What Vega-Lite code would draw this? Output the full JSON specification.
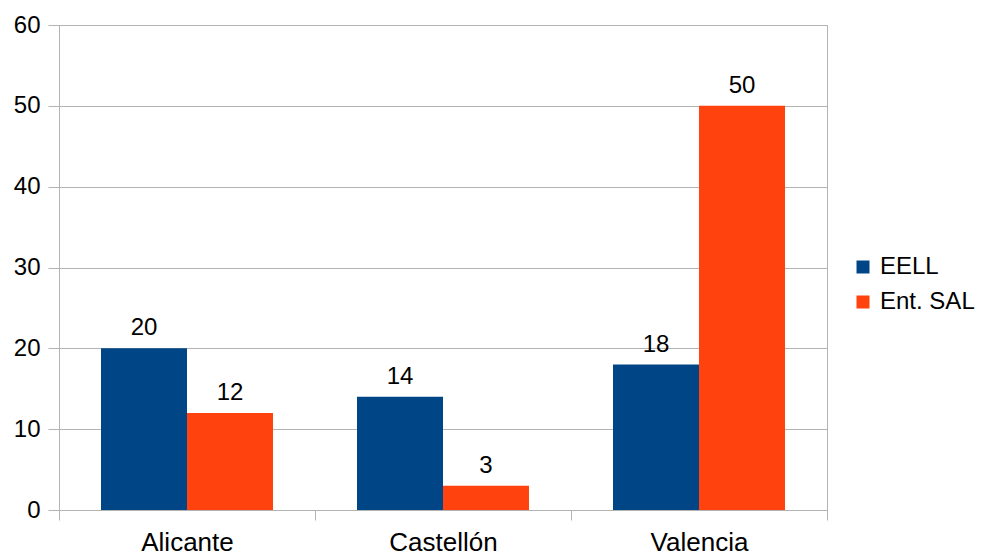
{
  "$schema": "https://vega.github.io/schema/vega-lite/v6.json",
  "width": 768,
  "height": 485,
  "autosize": {"type": "none"},
  "padding": {"left": 59, "top": 25, "right": 159, "bottom": 45},
  "background": "white",
  "config": {
    "font": "Liberation Sans",
    "view": {"stroke": "#b3b3b3", "strokeWidth": 1}
  },
  "data": {
    "values": [
      {"region": "Alicante", "series": "EELL", "value": 20},
      {"region": "Alicante", "series": "Ent. SAL", "value": 12},
      {"region": "Castellón", "series": "EELL", "value": 14},
      {"region": "Castellón", "series": "Ent. SAL", "value": 3},
      {"region": "Valencia", "series": "EELL", "value": 18},
      {"region": "Valencia", "series": "Ent. SAL", "value": 50}
    ]
  },
  "encoding": {
    "x": {
      "field": "region", "type": "nominal", "sort": null,
      "scale": {"paddingInner": 0, "paddingOuter": 0},
      "axis": {
        "title": null, "labelAngle": 0, "labelFontSize": 26, "labelColor": "#000000",
        "labelPadding": 9, "labelBaseline": "top", "tickBand": "extent", "tickColor": "#b3b3b3", "tickSize": 10,
        "domain": false, "grid": false
      }
    },
    "xOffset": {
      "field": "series", "type": "nominal",
      "scale": {"paddingInner": 0, "paddingOuter": 0.4884}
    },
    "y": {
      "field": "value", "type": "quantitative",
      "scale": {"domain": [0, 60], "nice": false},
      "axis": {
        "title": null, "values": [0, 10, 20, 30, 40, 50, 60], "labelFontSize": 24,
        "labelColor": "#000000", "labelPadding": 8, "tickSize": 11, "tickColor": "#b3b3b3",
        "gridColor": "#b3b3b3", "domain": false
      }
    }
  },
  "layer": [
    {
      "mark": {"type": "bar"},
      "encoding": {
        "color": {
          "field": "series", "type": "nominal",
          "scale": {"domain": ["EELL", "Ent. SAL"], "range": ["#004586", "#ff420e"]},
          "legend": {
            "title": null, "orient": "none", "legendX": 792, "legendY": 230,
            "symbolType": "square", "symbolSize": 169, "symbolStrokeWidth": 0,
            "labelFontSize": 24, "labelColor": "#000000", "rowPadding": 11, "labelOffset": 5
          }
        }
      }
    },
    {
      "mark": {"type": "text", "baseline": "alphabetic", "dy": -13, "fontSize": 24, "color": "#000000"},
      "encoding": {"text": {"field": "value", "type": "quantitative"}}
    }
  ]
}
